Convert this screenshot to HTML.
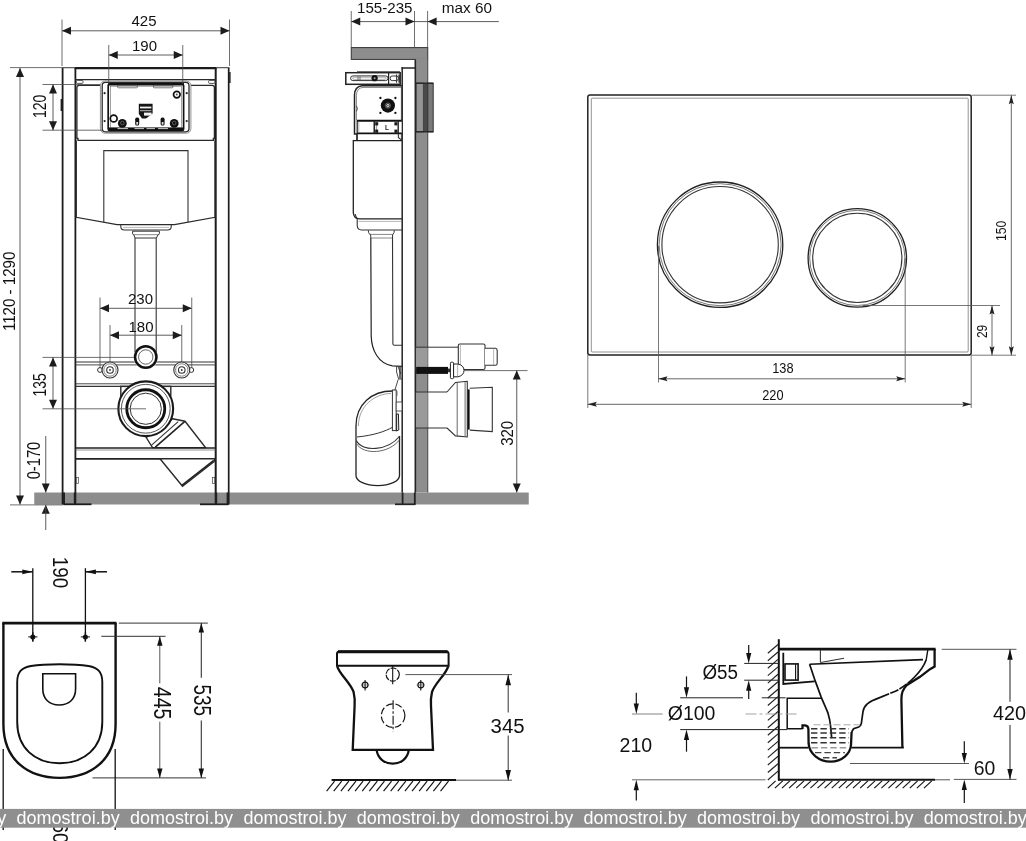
<!DOCTYPE html>
<html><head><meta charset="utf-8"><title>Installation drawing</title>
<style>
html,body{margin:0;padding:0;background:#fff;}
body{width:1026px;height:841px;overflow:hidden;font-family:"Liberation Sans",sans-serif;}
svg{display:block;will-change:transform;font-family:"Liberation Sans",sans-serif;}
</style></head><body>
<svg width="1026" height="841" viewBox="0 0 1026 841">
<rect x="0" y="0" width="1026" height="841" fill="#ffffff"/>
<g id="front">
<rect x="34.25" y="492.50" width="494.50" height="12.00" rx="0" stroke="none" stroke-width="0" fill="#8d8d8d" />
<line x1="62.60" y1="68.00" x2="62.60" y2="504.50" stroke="#1c1c1c" stroke-width="1.8" />
<line x1="75.40" y1="68.00" x2="75.40" y2="504.50" stroke="#1c1c1c" stroke-width="1.8" />
<line x1="215.70" y1="68.00" x2="215.70" y2="504.50" stroke="#1c1c1c" stroke-width="2.0" />
<line x1="228.70" y1="68.00" x2="228.70" y2="504.50" stroke="#1c1c1c" stroke-width="1.7" />
<line x1="74.50" y1="68.20" x2="216.60" y2="68.20" stroke="#1c1c1c" stroke-width="2.2" />
<line x1="61.80" y1="67.70" x2="74.50" y2="67.70" stroke="#444" stroke-width="1.1" />
<line x1="216.60" y1="67.70" x2="229.50" y2="67.70" stroke="#444" stroke-width="1.1" />
<line x1="75.40" y1="79.70" x2="215.60" y2="79.70" stroke="#2a2a2a" stroke-width="1.2" />
<rect x="60.60" y="99.00" width="1.40" height="12.00" rx="0" stroke="none" stroke-width="0" fill="#1c1c1c" />
<rect x="229.20" y="72.00" width="1.40" height="11.00" rx="0" stroke="none" stroke-width="0" fill="#1c1c1c" />
<line x1="63.50" y1="504.30" x2="91.50" y2="504.30" stroke="#1c1c1c" stroke-width="1.8" />
<line x1="200.00" y1="504.30" x2="228.50" y2="504.30" stroke="#1c1c1c" stroke-width="1.8" />
<line x1="10.00" y1="504.90" x2="63.00" y2="504.90" stroke="#4a4a4a" stroke-width="0.8" />
<rect x="76.40" y="80.40" width="6.60" height="3.00" rx="1" stroke="#444" stroke-width="0.9" fill="none" />
<rect x="208.60" y="80.40" width="6.40" height="3.00" rx="1" stroke="#444" stroke-width="0.9" fill="none" />
<path d="M100.4,85.3 L79,85.3 Q77,85.4 76.9,87.5 L76.9,138.5 L78,138.5 L78,140.4 L213.4,140.4 L213.4,138.5 L214.4,138.5 L214.4,87.5 Q214.3,85.4 212.3,85.3 L190.9,85.3" stroke="#2a2a2a" stroke-width="1.3" fill="none" />
<path d="M76.3,140.4 L76.3,217.3 L117,224.6 L174.5,224.6 L215,217.3 L215,140.4" stroke="#2a2a2a" stroke-width="1.2" fill="none" />
<path d="M103.8,222 L103.8,150.6 L188,150.6 L188,222" stroke="#333" stroke-width="1.1" fill="none" />
<path d="M120.8,224.6 L120.8,227 Q121,230 124.5,230 L167.5,230 Q171,230 171.2,227 L171.2,224.6" stroke="#333" stroke-width="1.1" fill="none" />
<line x1="123.00" y1="227.40" x2="169.00" y2="227.40" stroke="#888" stroke-width="0.6" />
<path d="M132.6,231.2 L159.4,231.2 L159.4,233.5 Q159.4,234.6 158,234.8 L156.4,238 L135,238 L133.8,234.8 Q132.6,234.6 132.6,233.5 Z" stroke="#333" stroke-width="1.0" fill="none" />
<line x1="133.50" y1="234.70" x2="158.50" y2="234.70" stroke="#555" stroke-width="0.7" />
<line x1="135.00" y1="238.00" x2="135.00" y2="346.00" stroke="#333" stroke-width="1.1" />
<line x1="156.20" y1="238.00" x2="156.20" y2="346.00" stroke="#333" stroke-width="1.1" />
<rect x="100.40" y="81.00" width="90.50" height="52.20" rx="4.5" stroke="#777" stroke-width="0.8" fill="#fff" />
<rect x="102.20" y="82.40" width="86.80" height="49.40" rx="3.2" stroke="#2a2a2a" stroke-width="1.3" fill="none" />
<rect x="108.20" y="84.00" width="75.40" height="46.40" rx="1.5" stroke="#111" stroke-width="1.7" fill="#fff" />
<line x1="108.00" y1="84.20" x2="184.00" y2="84.20" stroke="#111" stroke-width="2.6" />
<rect x="110.50" y="86.20" width="70.80" height="41.80" rx="0" stroke="#666" stroke-width="0.6" fill="none" />
<line x1="109.00" y1="129.30" x2="183.00" y2="129.30" stroke="#111" stroke-width="3.6" />
<line x1="117.50" y1="128.60" x2="128.00" y2="128.60" stroke="#ddd" stroke-width="0.9" />
<line x1="134.50" y1="128.60" x2="144.00" y2="128.60" stroke="#ddd" stroke-width="0.9" />
<line x1="146.50" y1="128.60" x2="155.00" y2="128.60" stroke="#ddd" stroke-width="0.9" />
<line x1="158.00" y1="128.60" x2="168.00" y2="128.60" stroke="#ddd" stroke-width="0.9" />
<rect x="117.60" y="85.20" width="19.80" height="2.60" rx="0.8" stroke="#444" stroke-width="0.7" fill="none" />
<rect x="153.40" y="85.20" width="19.50" height="2.60" rx="0.8" stroke="#444" stroke-width="0.7" fill="none" />
<circle cx="104.60" cy="93.20" r="1.10" stroke="none" stroke-width="0" fill="#222" />
<circle cx="104.60" cy="121.10" r="1.10" stroke="none" stroke-width="0" fill="#222" />
<circle cx="186.70" cy="93.20" r="1.10" stroke="none" stroke-width="0" fill="#222" />
<circle cx="186.70" cy="121.10" r="1.10" stroke="none" stroke-width="0" fill="#222" />
<circle cx="176.80" cy="94.60" r="3.30" stroke="#111" stroke-width="1.7" fill="none" />
<circle cx="176.80" cy="94.60" r="1.00" stroke="none" stroke-width="0" fill="#555" />
<circle cx="113.70" cy="118.50" r="3.40" stroke="#111" stroke-width="1.7" fill="none" />
<circle cx="122.30" cy="123.40" r="4.40" stroke="none" stroke-width="0" fill="#111" />
<circle cx="122.30" cy="123.00" r="1.80" stroke="#777" stroke-width="0.7" fill="none" />
<circle cx="174.20" cy="123.40" r="4.40" stroke="none" stroke-width="0" fill="#111" />
<circle cx="174.20" cy="123.00" r="1.80" stroke="#777" stroke-width="0.7" fill="none" />
<rect x="135.20" y="117.60" width="4.00" height="8.00" rx="1.6" stroke="none" stroke-width="0" fill="#111" />
<rect x="160.60" y="117.60" width="4.00" height="8.00" rx="1.6" stroke="none" stroke-width="0" fill="#111" />
<rect x="136.30" y="122.00" width="1.80" height="2.60" rx="0" stroke="none" stroke-width="0" fill="#ddd" />
<rect x="161.70" y="122.00" width="1.80" height="2.60" rx="0" stroke="none" stroke-width="0" fill="#ddd" />
<path d="M138.8,103.8 L152.6,103.8 L152.6,113.5 L146,118.6 L142,118.6 L138.8,114 Z" stroke="none" stroke-width="0" fill="#151515" />
<rect x="140.00" y="106.60" width="11.40" height="1.80" rx="0" stroke="none" stroke-width="0" fill="#eee" />
<rect x="140.00" y="110.20" width="11.40" height="1.00" rx="0" stroke="none" stroke-width="0" fill="#bbb" />
<rect x="144.00" y="112.60" width="7.60" height="3.00" rx="0" stroke="none" stroke-width="0" fill="#f2f2f2" />
<line x1="75.40" y1="362.00" x2="215.60" y2="362.00" stroke="#333" stroke-width="1.2" />
<line x1="75.40" y1="364.90" x2="215.60" y2="364.90" stroke="#333" stroke-width="0.9" />
<line x1="75.40" y1="383.80" x2="215.60" y2="383.80" stroke="#333" stroke-width="0.9" />
<line x1="75.40" y1="386.40" x2="215.60" y2="386.40" stroke="#333" stroke-width="1.2" />
<circle cx="145.75" cy="357.00" r="12.20" stroke="none" stroke-width="0" fill="#fff" />
<circle cx="145.75" cy="357.00" r="10.70" stroke="#111" stroke-width="2.5" fill="#fff" />
<circle cx="145.75" cy="357.00" r="7.20" stroke="#555" stroke-width="0.9" fill="none" />
<line x1="135.00" y1="346.00" x2="135.00" y2="352.00" stroke="#333" stroke-width="1.1" />
<line x1="156.20" y1="346.00" x2="156.20" y2="352.00" stroke="#333" stroke-width="1.1" />
<circle cx="100.00" cy="370.00" r="2.40" stroke="#333" stroke-width="1.0" fill="#fff" />
<circle cx="110.00" cy="370.00" r="8.00" stroke="#333" stroke-width="1.1" fill="#fff" />
<circle cx="110.00" cy="370.00" r="6.20" stroke="#666" stroke-width="0.8" fill="none" />
<circle cx="110.00" cy="370.00" r="3.30" stroke="#333" stroke-width="1.1" fill="none" />
<circle cx="110.00" cy="370.00" r="0.90" stroke="none" stroke-width="0" fill="#333" />
<circle cx="191.30" cy="370.00" r="2.40" stroke="#333" stroke-width="1.0" fill="#fff" />
<circle cx="181.75" cy="370.00" r="8.00" stroke="#333" stroke-width="1.1" fill="#fff" />
<circle cx="181.75" cy="370.00" r="6.20" stroke="#666" stroke-width="0.8" fill="none" />
<circle cx="181.75" cy="370.00" r="3.30" stroke="#333" stroke-width="1.1" fill="none" />
<circle cx="181.75" cy="370.00" r="0.90" stroke="none" stroke-width="0" fill="#333" />
<rect x="120.80" y="386.40" width="50.00" height="9.60" rx="0" stroke="#2a2a2a" stroke-width="1.4" fill="none" />
<polygon points="172.50,418.75 185.00,421.25 205.50,447.60 152.50,447.60 146.25,437.50" stroke="#2a2a2a" stroke-width="1.4" fill="#fff" />
<line x1="151.60" y1="445.20" x2="178.20" y2="421.60" stroke="#333" stroke-width="1.1" />
<line x1="155.30" y1="447.20" x2="184.60" y2="421.60" stroke="#222" stroke-width="1.6" />
<circle cx="145.75" cy="408.75" r="27.40" stroke="#1a1a1a" stroke-width="2.1" fill="#fff" />
<circle cx="145.75" cy="408.75" r="24.40" stroke="#444" stroke-width="0.9" fill="none" />
<circle cx="145.75" cy="408.75" r="19.00" stroke="#111" stroke-width="2.8" fill="none" />
<circle cx="145.75" cy="408.75" r="15.60" stroke="#333" stroke-width="1.0" fill="none" />
<line x1="75.40" y1="448.00" x2="215.60" y2="448.00" stroke="#222" stroke-width="1.5" />
<line x1="75.40" y1="450.00" x2="215.60" y2="450.00" stroke="#666" stroke-width="0.7" />
<line x1="75.40" y1="458.80" x2="215.60" y2="458.80" stroke="#222" stroke-width="1.8" />
<polygon points="160.00,458.80 182.50,486.20 214.60,461.20 214.60,458.80" stroke="#2a2a2a" stroke-width="1.4" fill="#fff" />
<line x1="181.50" y1="485.60" x2="213.80" y2="460.40" stroke="#222" stroke-width="1.6" />
<rect x="76.20" y="477.50" width="2.40" height="6.00" rx="0" stroke="#444" stroke-width="0.7" fill="none" />
<rect x="212.40" y="477.50" width="2.40" height="6.00" rx="0" stroke="#444" stroke-width="0.7" fill="none" />
<line x1="62.00" y1="19.50" x2="62.00" y2="66.00" stroke="#4a4a4a" stroke-width="0.8" />
<line x1="229.50" y1="19.50" x2="229.50" y2="66.00" stroke="#4a4a4a" stroke-width="0.8" />
<line x1="62.00" y1="30.80" x2="229.50" y2="30.80" stroke="#4a4a4a" stroke-width="0.9" />
<polygon points="62.00,30.80 71.00,26.80 71.00,34.80" fill="#1c1c1c"/>
<polygon points="229.50,30.80 220.50,34.80 220.50,26.80" fill="#1c1c1c"/>
<text x="144.00" y="26.00" font-size="15" text-anchor="middle" fill="#111" font-weight="normal" >425</text>
<line x1="108.75" y1="45.00" x2="108.75" y2="84.00" stroke="#4a4a4a" stroke-width="0.8" />
<line x1="182.75" y1="45.00" x2="182.75" y2="84.00" stroke="#4a4a4a" stroke-width="0.8" />
<line x1="108.75" y1="55.00" x2="182.75" y2="55.00" stroke="#4a4a4a" stroke-width="0.9" />
<polygon points="108.75,55.00 117.75,51.00 117.75,59.00" fill="#1c1c1c"/>
<polygon points="182.75,55.00 173.75,59.00 173.75,51.00" fill="#1c1c1c"/>
<text x="144.50" y="51.20" font-size="15" text-anchor="middle" fill="#111" font-weight="normal" >190</text>
<line x1="42.50" y1="84.50" x2="100.00" y2="84.50" stroke="#4a4a4a" stroke-width="0.8" />
<line x1="42.50" y1="130.20" x2="103.00" y2="130.20" stroke="#4a4a4a" stroke-width="0.8" />
<line x1="53.00" y1="84.50" x2="53.00" y2="130.20" stroke="#4a4a4a" stroke-width="0.9" />
<polygon points="53.00,84.50 57.00,93.50 49.00,93.50" fill="#1c1c1c"/>
<polygon points="53.00,130.20 49.00,121.20 57.00,121.20" fill="#1c1c1c"/>
<text x="46.30" y="106.30" font-size="17.5" text-anchor="middle" fill="#111" font-weight="normal" transform="rotate(-90 46.30 106.30)"  textLength="23.4" lengthAdjust="spacingAndGlyphs">120</text>
<line x1="10.00" y1="67.60" x2="62.00" y2="67.60" stroke="#4a4a4a" stroke-width="0.8" />
<line x1="20.00" y1="68.00" x2="20.00" y2="504.50" stroke="#4a4a4a" stroke-width="0.9" />
<polygon points="20.00,68.00 24.00,77.00 16.00,77.00" fill="#1c1c1c"/>
<polygon points="20.00,504.50 16.00,495.50 24.00,495.50" fill="#1c1c1c"/>
<text x="14.60" y="291.40" font-size="17" text-anchor="middle" fill="#111" font-weight="normal" transform="rotate(-90 14.60 291.40)"  textLength="79.4" lengthAdjust="spacingAndGlyphs">1120 - 1290</text>
<line x1="100.00" y1="297.50" x2="100.00" y2="368.00" stroke="#4a4a4a" stroke-width="0.8" />
<line x1="191.75" y1="297.50" x2="191.75" y2="368.00" stroke="#4a4a4a" stroke-width="0.8" />
<line x1="100.00" y1="308.30" x2="191.75" y2="308.30" stroke="#4a4a4a" stroke-width="0.9" />
<polygon points="100.00,308.30 109.00,304.30 109.00,312.30" fill="#1c1c1c"/>
<polygon points="191.75,308.30 182.75,312.30 182.75,304.30" fill="#1c1c1c"/>
<text x="140.50" y="303.80" font-size="15" text-anchor="middle" fill="#111" font-weight="normal" >230</text>
<line x1="110.00" y1="325.00" x2="110.00" y2="362.00" stroke="#4a4a4a" stroke-width="0.8" />
<line x1="181.75" y1="325.00" x2="181.75" y2="362.00" stroke="#4a4a4a" stroke-width="0.8" />
<line x1="110.00" y1="335.20" x2="181.75" y2="335.20" stroke="#4a4a4a" stroke-width="0.9" />
<polygon points="110.00,335.20 119.00,331.20 119.00,339.20" fill="#1c1c1c"/>
<polygon points="181.75,335.20 172.75,339.20 172.75,331.20" fill="#1c1c1c"/>
<text x="141.00" y="331.60" font-size="15" text-anchor="middle" fill="#111" font-weight="normal" >180</text>
<line x1="42.50" y1="357.40" x2="134.00" y2="357.40" stroke="#4a4a4a" stroke-width="0.8" />
<line x1="42.50" y1="408.80" x2="146.00" y2="408.80" stroke="#4a4a4a" stroke-width="0.8" />
<line x1="53.00" y1="357.40" x2="53.00" y2="408.80" stroke="#4a4a4a" stroke-width="0.9" />
<polygon points="53.00,357.40 57.00,366.40 49.00,366.40" fill="#1c1c1c"/>
<polygon points="53.00,408.80 49.00,399.80 57.00,399.80" fill="#1c1c1c"/>
<text x="45.80" y="384.80" font-size="17.5" text-anchor="middle" fill="#111" font-weight="normal" transform="rotate(-90 45.80 384.80)"  textLength="23.2" lengthAdjust="spacingAndGlyphs">135</text>
<line x1="45.75" y1="436.00" x2="45.75" y2="492.50" stroke="#4a4a4a" stroke-width="0.9" />
<polygon points="45.75,492.50 41.75,483.50 49.75,483.50" fill="#1c1c1c"/>
<polygon points="45.75,504.80 49.75,513.80 41.75,513.80" fill="#1c1c1c"/>
<line x1="45.75" y1="505.00" x2="45.75" y2="530.00" stroke="#4a4a4a" stroke-width="0.9" />
<text x="39.60" y="460.50" font-size="17.5" text-anchor="middle" fill="#111" font-weight="normal" transform="rotate(-90 39.60 460.50)"  textLength="37.6" lengthAdjust="spacingAndGlyphs">0-170</text>
<line x1="64.00" y1="492.50" x2="64.00" y2="504.50" stroke="#222" stroke-width="2.0" />
<line x1="74.80" y1="492.50" x2="74.80" y2="504.50" stroke="#222" stroke-width="2.0" />
<line x1="216.20" y1="492.50" x2="216.20" y2="504.50" stroke="#222" stroke-width="2.0" />
<line x1="227.60" y1="492.50" x2="227.60" y2="504.50" stroke="#222" stroke-width="2.0" />
</g>
<g id="side">
<rect x="351.25" y="47.60" width="76.50" height="11.80" rx="0" stroke="#333" stroke-width="1.0" fill="#8d8d8d" />
<rect x="415.30" y="59.40" width="12.45" height="433.10" rx="0" stroke="none" stroke-width="0" fill="#8d8d8d" />
<line x1="415.30" y1="59.40" x2="415.30" y2="492.50" stroke="#222" stroke-width="1.6" />
<line x1="427.75" y1="59.40" x2="427.75" y2="492.50" stroke="#444" stroke-width="1.0" />
<rect x="416.00" y="58.60" width="11.20" height="1.80" rx="0" stroke="none" stroke-width="0" fill="#8d8d8d" />
<rect x="402.20" y="68.00" width="13.10" height="424.50" rx="0" stroke="none" stroke-width="0" fill="#fff" />
<line x1="402.20" y1="67.30" x2="402.20" y2="492.50" stroke="#222" stroke-width="1.5" />
<line x1="415.30" y1="68.00" x2="415.30" y2="492.50" stroke="#222" stroke-width="1.5" />
<line x1="401.50" y1="68.00" x2="416.00" y2="68.00" stroke="#222" stroke-width="1.5" />
<rect x="416.20" y="83.20" width="7.20" height="48.60" rx="0" stroke="#333" stroke-width="0.9" fill="#949494" />
<rect x="423.40" y="83.20" width="4.40" height="48.60" rx="0" stroke="none" stroke-width="0" fill="#4a4a4a" />
<rect x="427.80" y="83.20" width="5.40" height="48.60" rx="0" stroke="#333" stroke-width="1.0" fill="#7a7a7a" />
<line x1="416.00" y1="83.20" x2="433.30" y2="83.20" stroke="#222" stroke-width="1.3" />
<line x1="416.00" y1="131.80" x2="433.30" y2="131.80" stroke="#222" stroke-width="1.3" />
<rect x="345.80" y="72.70" width="54.40" height="11.60" rx="0" stroke="#222" stroke-width="1.5" fill="#fff" />
<line x1="357.00" y1="71.80" x2="400.00" y2="71.80" stroke="#333" stroke-width="1.0" />
<rect x="350.60" y="75.90" width="37.40" height="4.70" rx="2.3" stroke="#333" stroke-width="1.0" fill="none" />
<rect x="352.60" y="77.20" width="33.40" height="2.10" rx="1" stroke="#777" stroke-width="0.6" fill="none" />
<line x1="358.00" y1="76.40" x2="358.00" y2="80.20" stroke="#555" stroke-width="0.8" />
<line x1="360.00" y1="76.40" x2="360.00" y2="80.20" stroke="#555" stroke-width="0.8" />
<circle cx="374.60" cy="78.20" r="3.10" stroke="none" stroke-width="0" fill="#111" />
<circle cx="374.60" cy="78.20" r="1.00" stroke="none" stroke-width="0" fill="#aaa" />
<line x1="388.60" y1="73.00" x2="388.60" y2="84.00" stroke="#222" stroke-width="1.2" />
<rect x="390.20" y="76.00" width="8.20" height="4.60" rx="2" stroke="#333" stroke-width="1.0" fill="none" />
<line x1="396.60" y1="74.40" x2="396.60" y2="82.80" stroke="#333" stroke-width="1.0" />
<rect x="398.40" y="74.60" width="2.20" height="8.00" rx="0" stroke="none" stroke-width="0" fill="#333" />
<path d="M402,85.7 L362,85.7 Q354.6,86.6 354.5,95 L354.5,134 L357,134 L357,140.6" stroke="#222" stroke-width="1.5" fill="none" />
<path d="M401,87.4 L363,87.4 Q356.6,88 356.4,95.5 L356.4,120" stroke="#666" stroke-width="0.8" fill="none" />
<path d="M356.4,105.8 Q358.6,108.6 356.4,111.4" stroke="#444" stroke-width="0.9" fill="none" />
<line x1="401.40" y1="85.70" x2="401.40" y2="140.60" stroke="#444" stroke-width="0.9" />
<circle cx="387.90" cy="105.60" r="7.10" stroke="none" stroke-width="0" fill="#111" />
<circle cx="387.90" cy="105.60" r="2.60" stroke="#888" stroke-width="0.7" fill="none" />
<circle cx="387.90" cy="105.60" r="1.30" stroke="#eee" stroke-width="0.8" fill="#666" />
<circle cx="380.40" cy="98.00" r="1.15" stroke="none" stroke-width="0" fill="#111" />
<circle cx="380.40" cy="112.90" r="1.15" stroke="none" stroke-width="0" fill="#111" />
<circle cx="395.40" cy="98.00" r="1.15" stroke="none" stroke-width="0" fill="#111" />
<circle cx="395.40" cy="112.90" r="1.15" stroke="none" stroke-width="0" fill="#111" />
<rect x="357.00" y="120.60" width="44.60" height="12.90" rx="0" stroke="none" stroke-width="0" fill="#fff" />
<line x1="356.80" y1="120.80" x2="401.80" y2="120.80" stroke="#111" stroke-width="1.9" />
<line x1="356.80" y1="133.40" x2="401.80" y2="133.40" stroke="#111" stroke-width="1.9" />
<line x1="357.20" y1="120.60" x2="357.20" y2="133.50" stroke="#222" stroke-width="1.2" />
<line x1="358.80" y1="121.60" x2="358.80" y2="132.60" stroke="#888" stroke-width="0.6" />
<line x1="374.30" y1="120.60" x2="374.30" y2="133.50" stroke="#222" stroke-width="1.6" />
<line x1="376.60" y1="121.60" x2="376.60" y2="132.60" stroke="#666" stroke-width="0.7" />
<line x1="398.20" y1="120.60" x2="398.20" y2="133.50" stroke="#222" stroke-width="1.4" />
<rect x="375.20" y="122.20" width="3.00" height="3.20" rx="0" stroke="none" stroke-width="0" fill="#1a1a1a" />
<rect x="375.20" y="129.60" width="3.00" height="3.20" rx="0" stroke="none" stroke-width="0" fill="#1a1a1a" />
<rect x="394.40" y="122.20" width="3.00" height="3.20" rx="0" stroke="none" stroke-width="0" fill="#1a1a1a" />
<rect x="394.40" y="129.60" width="3.00" height="3.20" rx="0" stroke="none" stroke-width="0" fill="#1a1a1a" />
<text x="387.00" y="129.60" font-size="6.5" text-anchor="middle" fill="#222" font-weight="bold" >L</text>
<path d="M357,133.5 L357,140.6 M398.4,134 L398.4,137.4 L401.8,140.4" stroke="#333" stroke-width="1.1" fill="none" />
<path d="M402,140.6 L353.3,140.6 L353.3,212.5 Q353.6,218.6 359.5,218.8 L402,218.8" stroke="#222" stroke-width="1.3" fill="none" />
<path d="M355.2,214 Q355.6,217 357.2,218.6 L357.2,225.5 Q357.6,229.8 361.5,230 L402,230" stroke="#333" stroke-width="1.1" fill="none" />
<line x1="358.50" y1="221.40" x2="402.00" y2="221.40" stroke="#888" stroke-width="0.6" />
<path d="M368.3,230.4 L368.6,232.6 Q369,234 370.6,234.4 L370.8,238 M394.3,230.4 L394,232.6 Q393.6,234 392.6,234.4 L392.5,238" stroke="#333" stroke-width="1.0" fill="none" />
<line x1="369.60" y1="234.40" x2="393.40" y2="234.40" stroke="#555" stroke-width="0.7" />
<line x1="370.80" y1="238.00" x2="392.50" y2="238.00" stroke="#555" stroke-width="0.7" />
<path d="M370.8,238 L371.2,336 C371.6,350 378,363.4 392.4,365.9 L402,366.4" stroke="#222" stroke-width="1.2" fill="none" />
<path d="M392.5,238 L392.9,344 Q393,345.2 394.4,345.3 L402,345.3" stroke="#333" stroke-width="1.1" fill="none" />
<path d="M396.6,366.4 L396.6,372 L398.6,379 L402,379 M398,366.4 L400.8,374 M398.2,379.4 L394.6,391" stroke="#333" stroke-width="0.9" fill="none" />
<line x1="400.00" y1="367.00" x2="400.00" y2="378.60" stroke="#333" stroke-width="1.4" />
<path d="M392.4,391 C372,391 356,404 356,426 L356,475.5 A21.75,10.2 0 0 0 399.5,475.5 L399.5,436" stroke="#222" stroke-width="1.3" fill="#fff" />
<path d="M391,393.4 C374,394 358.6,406 358.4,426" stroke="#777" stroke-width="0.7" fill="none" />
<path d="M392.4,427.3 C386,431 374,435.4 357,437" stroke="#333" stroke-width="1.0" fill="none" />
<path d="M356.4,440.6 C362,452.5 388,451 399.8,436" stroke="#333" stroke-width="1.1" fill="none" />
<path d="M356.4,443.4 C363,455.5 389,454 399.8,439.5" stroke="#555" stroke-width="0.9" fill="none" />
<rect x="392.40" y="390.00" width="3.80" height="40.60" rx="0" stroke="#333" stroke-width="1.0" fill="#fff" />
<line x1="397.00" y1="391.00" x2="397.00" y2="396.00" stroke="#555" stroke-width="0.8" />
<rect x="396.20" y="402.00" width="5.80" height="9.00" rx="0" stroke="#444" stroke-width="0.9" fill="#fff" />
<path d="M396.4,414 L398.4,414 L398.8,430 L396.4,431 Z" stroke="#222" stroke-width="1.0" fill="#ddd" />
<rect x="415.90" y="347.20" width="11.70" height="22.20" rx="0" stroke="none" stroke-width="0" fill="#9a9a9a" />
<line x1="415.30" y1="347.20" x2="458.30" y2="347.20" stroke="#333" stroke-width="1.0" />
<line x1="415.30" y1="369.50" x2="458.30" y2="369.50" stroke="#333" stroke-width="1.0" />
<rect x="458.30" y="344.00" width="26.70" height="25.50" rx="1.5" stroke="#333" stroke-width="1.1" fill="#fff" />
<line x1="460.40" y1="345.00" x2="460.40" y2="368.60" stroke="#888" stroke-width="0.6" />
<path d="M485,348.2 L495.4,348.2 Q497.2,348.4 497.2,350.4 L497.2,363.2 Q497.2,365.2 495.4,365.3 L485,365.3" stroke="#333" stroke-width="1.1" fill="#fff" />
<line x1="493.60" y1="348.60" x2="493.60" y2="365.00" stroke="#888" stroke-width="0.6" />
<rect x="416.20" y="366.90" width="31.80" height="7.00" rx="0" stroke="none" stroke-width="0" fill="#111" />
<rect x="448.00" y="368.60" width="2.60" height="3.60" rx="0" stroke="none" stroke-width="0" fill="#333" />
<rect x="450.40" y="362.20" width="3.20" height="16.40" rx="1" stroke="#222" stroke-width="1.0" fill="#fff" />
<path d="M453.6,364 L458,364 Q464,365.4 464,370.4 Q464,375.4 458,376.8 L453.6,376.8 Z" stroke="#222" stroke-width="1.0" fill="#fff" />
<line x1="457.60" y1="364.20" x2="457.60" y2="376.60" stroke="#777" stroke-width="0.6" />
<rect x="415.90" y="392.00" width="11.70" height="36.00" rx="0" stroke="none" stroke-width="0" fill="#9a9a9a" />
<line x1="415.30" y1="392.00" x2="447.00" y2="392.00" stroke="#333" stroke-width="1.0" />
<line x1="415.30" y1="428.00" x2="447.00" y2="428.00" stroke="#333" stroke-width="1.0" />
<path d="M447,392 L455.5,382.5 L467.3,381.3 L467.3,437 L455.5,435.9 L447,428" stroke="#333" stroke-width="1.1" fill="#fff" />
<line x1="457.20" y1="382.40" x2="457.20" y2="436.00" stroke="#444" stroke-width="0.8" />
<line x1="465.10" y1="381.60" x2="465.10" y2="436.80" stroke="#444" stroke-width="0.8" />
<rect x="467.60" y="389.40" width="2.20" height="40.20" rx="0" stroke="none" stroke-width="0" fill="#111" />
<path d="M469.8,388.2 L492.3,387.3 L492.3,431.6 L469.8,430.1" stroke="#333" stroke-width="1.1" fill="#fff" />
<line x1="402.60" y1="492.50" x2="402.60" y2="504.50" stroke="#222" stroke-width="1.8" />
<line x1="414.80" y1="492.50" x2="414.80" y2="504.50" stroke="#222" stroke-width="1.8" />
<line x1="395.00" y1="504.30" x2="415.50" y2="504.30" stroke="#222" stroke-width="1.7" />
<line x1="351.25" y1="11.00" x2="351.25" y2="47.50" stroke="#4a4a4a" stroke-width="0.8" />
<line x1="414.50" y1="11.00" x2="414.50" y2="47.50" stroke="#4a4a4a" stroke-width="0.8" />
<line x1="427.60" y1="11.00" x2="427.60" y2="47.50" stroke="#4a4a4a" stroke-width="0.8" />
<line x1="351.25" y1="21.60" x2="498.80" y2="21.60" stroke="#4a4a4a" stroke-width="0.9" />
<polygon points="351.25,21.60 360.25,17.60 360.25,25.60" fill="#1c1c1c"/>
<polygon points="414.50,21.60 405.50,25.60 405.50,17.60" fill="#1c1c1c"/>
<polygon points="427.60,21.60 436.60,17.60 436.60,25.60" fill="#1c1c1c"/>
<text x="384.75" y="12.60" font-size="15" text-anchor="middle" fill="#111" font-weight="normal"  textLength="55.5" lengthAdjust="spacingAndGlyphs">155-235</text>
<text x="466.90" y="12.60" font-size="15" text-anchor="middle" fill="#111" font-weight="normal"  textLength="50.2" lengthAdjust="spacingAndGlyphs">max 60</text>
<line x1="464.00" y1="370.60" x2="527.50" y2="370.60" stroke="#4a4a4a" stroke-width="0.8" />
<line x1="516.75" y1="370.60" x2="516.75" y2="492.50" stroke="#4a4a4a" stroke-width="0.9" />
<polygon points="516.75,370.60 520.75,379.60 512.75,379.60" fill="#1c1c1c"/>
<polygon points="516.75,492.50 512.75,483.50 520.75,483.50" fill="#1c1c1c"/>
<text x="513.00" y="433.30" font-size="17.2" text-anchor="middle" fill="#111" font-weight="normal" transform="rotate(-90 513.00 433.30)"  textLength="25" lengthAdjust="spacingAndGlyphs">320</text>
</g>
<g id="plate">
<rect x="587.80" y="95.00" width="383.40" height="260.00" rx="2.2" stroke="#222" stroke-width="1.5" fill="none" />
<rect x="591.30" y="98.20" width="376.90" height="253.80" rx="1" stroke="#666" stroke-width="0.7" fill="none" />
<circle cx="720.10" cy="244.70" r="62.70" stroke="#222" stroke-width="1.3" fill="none" />
<circle cx="720.10" cy="244.70" r="61.00" stroke="#555" stroke-width="0.8" fill="none" />
<circle cx="720.10" cy="244.70" r="58.20" stroke="#333" stroke-width="1.1" fill="none" />
<circle cx="857.30" cy="257.90" r="49.20" stroke="#222" stroke-width="1.3" fill="none" />
<circle cx="857.30" cy="257.90" r="47.60" stroke="#555" stroke-width="0.8" fill="none" />
<circle cx="857.30" cy="257.90" r="44.60" stroke="#333" stroke-width="1.1" fill="none" />
<line x1="658.50" y1="246.00" x2="658.50" y2="382.50" stroke="#555" stroke-width="0.8" />
<line x1="905.20" y1="258.00" x2="905.20" y2="382.50" stroke="#555" stroke-width="0.8" />
<line x1="658.50" y1="378.80" x2="905.20" y2="378.80" stroke="#555" stroke-width="0.9" />
<polygon points="658.50,378.80 667.50,376.30 666.00,378.80 667.50,381.30" fill="#222"/>
<polygon points="905.20,378.80 896.20,381.30 897.70,378.80 896.20,376.30" fill="#222"/>
<text x="782.90" y="373.30" font-size="14" text-anchor="middle" fill="#111" font-weight="normal"  textLength="21.3" lengthAdjust="spacingAndGlyphs">138</text>
<line x1="587.80" y1="355.00" x2="587.80" y2="408.00" stroke="#555" stroke-width="0.8" />
<line x1="971.20" y1="355.00" x2="971.20" y2="408.00" stroke="#555" stroke-width="0.8" />
<line x1="587.80" y1="404.30" x2="971.20" y2="404.30" stroke="#555" stroke-width="0.9" />
<polygon points="587.80,404.30 596.80,401.80 595.30,404.30 596.80,406.80" fill="#222"/>
<polygon points="971.20,404.30 962.20,406.80 963.70,404.30 962.20,401.80" fill="#222"/>
<text x="772.90" y="400.00" font-size="14" text-anchor="middle" fill="#111" font-weight="normal"  textLength="21.3" lengthAdjust="spacingAndGlyphs">220</text>
<line x1="971.50" y1="95.20" x2="1016.00" y2="95.20" stroke="#555" stroke-width="0.8" />
<line x1="971.50" y1="355.20" x2="1016.00" y2="355.20" stroke="#555" stroke-width="0.8" />
<line x1="1011.30" y1="95.20" x2="1011.30" y2="355.20" stroke="#555" stroke-width="0.9" />
<polygon points="1011.30,95.20 1013.80,104.20 1011.30,102.70 1008.80,104.20" fill="#222"/>
<polygon points="1011.30,355.20 1008.80,346.20 1011.30,347.70 1013.80,346.20" fill="#222"/>
<text x="1005.80" y="230.80" font-size="15" text-anchor="middle" fill="#111" font-weight="normal" transform="rotate(-90 1005.80 230.80)"  textLength="20.4" lengthAdjust="spacingAndGlyphs">150</text>
<line x1="862.50" y1="305.50" x2="1000.00" y2="305.50" stroke="#555" stroke-width="0.8" />
<line x1="992.00" y1="305.50" x2="992.00" y2="355.20" stroke="#555" stroke-width="0.9" />
<polygon points="992.00,305.50 994.50,314.50 992.00,313.00 989.50,314.50" fill="#222"/>
<polygon points="992.00,355.20 989.50,346.20 992.00,347.70 994.50,346.20" fill="#222"/>
<text x="987.50" y="331.40" font-size="15" text-anchor="middle" fill="#111" font-weight="normal" transform="rotate(-90 987.50 331.40)"  textLength="13.4" lengthAdjust="spacingAndGlyphs">29</text>
</g>
<g id="top">
<path d="M3.4,623.1 L3.4,724 C3.4,760 28,777.9 59.5,777.9 C91,777.9 115.6,760 115.6,724 L115.6,623.1" stroke="#111" stroke-width="2.4" fill="none" />
<line x1="2.30" y1="623.10" x2="116.50" y2="623.10" stroke="#111" stroke-width="2.6" />
<path d="M31,666 C45,663.6 74,663.6 88.5,666 C98,667.6 102.3,672 102.3,682 L102.3,722 C102.3,748 84,763.2 59.6,763.2 C35,763.2 17.2,748 17.2,722 L17.2,682 C17.2,672 21.5,667.6 31,666 Z" stroke="#111" stroke-width="1.9" fill="none" />
<path d="M42.8,673.8 L75.6,673.8 L75.6,689 C75.6,699 69,705 59.2,705 C49.4,705 42.8,699 42.8,689 Z" stroke="#111" stroke-width="1.6" fill="none" />
<line x1="32.80" y1="568.20" x2="32.80" y2="641.50" stroke="#111" stroke-width="1.3" />
<line x1="28.20" y1="636.90" x2="37.40" y2="636.90" stroke="#111" stroke-width="1.0" />
<circle cx="32.80" cy="636.90" r="2.50" stroke="none" stroke-width="0" fill="#111" />
<line x1="32.80" y1="632.20" x2="32.80" y2="641.60" stroke="#111" stroke-width="1.3" />
<line x1="85.40" y1="568.20" x2="85.40" y2="641.50" stroke="#111" stroke-width="1.3" />
<line x1="80.80" y1="636.90" x2="90.00" y2="636.90" stroke="#111" stroke-width="1.0" />
<circle cx="85.40" cy="636.90" r="2.50" stroke="none" stroke-width="0" fill="#111" />
<line x1="85.40" y1="632.20" x2="85.40" y2="641.60" stroke="#111" stroke-width="1.3" />
<line x1="11.30" y1="571.80" x2="32.80" y2="571.80" stroke="#111" stroke-width="1.5" />
<polygon points="32.80,571.80 22.30,574.20 22.30,569.40" fill="#111"/>
<line x1="85.40" y1="571.80" x2="107.00" y2="571.80" stroke="#111" stroke-width="1.5" />
<polygon points="85.40,571.80 95.90,569.40 95.90,574.20" fill="#111"/>
<text x="52.60" y="572.60" font-size="22.5" text-anchor="middle" fill="#111" font-weight="normal" transform="rotate(90 52.60 572.60)" textLength="31.5" lengthAdjust="spacingAndGlyphs">190</text>
<line x1="118.80" y1="623.10" x2="207.80" y2="623.10" stroke="#333" stroke-width="1.0" />
<line x1="101.30" y1="636.30" x2="165.60" y2="636.30" stroke="#333" stroke-width="1.0" />
<line x1="92.50" y1="777.90" x2="206.00" y2="777.90" stroke="#333" stroke-width="1.0" />
<line x1="159.80" y1="636.30" x2="159.80" y2="683.40" stroke="#444" stroke-width="0.9" />
<line x1="159.80" y1="721.70" x2="159.80" y2="777.90" stroke="#444" stroke-width="0.9" />
<polygon points="159.80,636.30 162.50,645.80 157.10,645.80" fill="#111"/>
<polygon points="159.80,777.90 157.10,768.40 162.50,768.40" fill="#111"/>
<text x="153.50" y="703.10" font-size="23" text-anchor="middle" fill="#111" font-weight="normal" transform="rotate(90 153.50 703.10)" textLength="32.6" lengthAdjust="spacingAndGlyphs">445</text>
<line x1="201.30" y1="623.10" x2="201.30" y2="677.70" stroke="#333" stroke-width="1.1" />
<line x1="201.30" y1="720.60" x2="201.30" y2="777.90" stroke="#333" stroke-width="1.1" />
<polygon points="201.30,623.10 204.00,632.60 198.60,632.60" fill="#111"/>
<polygon points="201.30,777.90 198.60,768.40 204.00,768.40" fill="#111"/>
<text x="194.00" y="700.30" font-size="23" text-anchor="middle" fill="#111" font-weight="normal" transform="rotate(90 194.00 700.30)" textLength="31.6" lengthAdjust="spacingAndGlyphs">535</text>
<line x1="3.20" y1="749.00" x2="3.20" y2="830.00" stroke="#111" stroke-width="1.3" />
<line x1="115.20" y1="749.00" x2="115.20" y2="830.00" stroke="#111" stroke-width="1.3" />
<text x="52.60" y="827.80" font-size="22.5" text-anchor="middle" fill="#111" font-weight="normal" transform="rotate(90 52.60 827.80)" textLength="31.5" lengthAdjust="spacingAndGlyphs">360</text>
</g>
<g id="back">
<path d="M337,665.8 L337,653.6 Q337.2,651.6 339.4,651.5 L446.2,651.5 Q448.4,651.6 448.6,653.6 L448.6,665.8 Z" stroke="#111" stroke-width="2.0" fill="#fff" />
<line x1="338.00" y1="651.70" x2="447.60" y2="651.70" stroke="#111" stroke-width="3.0" />
<path d="M337.2,666.3 C340,675 350,682 353.6,692 C354.8,697 354.8,703 354.6,706 L352.7,749.9 L433,749.9 L431,706 C430.8,703 430.8,697 432,692 C435.6,682 445.6,675 448.2,666.3" stroke="#111" stroke-width="2.3" fill="none" />
<path d="M376.6,750 C377.8,758.6 384.6,763.6 392.7,763.6 C400.8,763.6 407.6,758.6 408.8,750" stroke="#111" stroke-width="2.2" fill="none" />
<circle cx="392.70" cy="674.60" r="6.60" stroke="#111" stroke-width="1.2" fill="none" stroke-dasharray="6 1.2"/>
<line x1="392.70" y1="664.90" x2="392.70" y2="684.20" stroke="#111" stroke-width="1.1" />
<circle cx="365.10" cy="685.00" r="2.90" stroke="#111" stroke-width="1.2" fill="none" />
<line x1="365.10" y1="680.00" x2="365.10" y2="690.40" stroke="#111" stroke-width="1.1" />
<line x1="360.90" y1="685.00" x2="369.30" y2="685.00" stroke="#555" stroke-width="0.7" />
<circle cx="420.80" cy="685.00" r="2.90" stroke="#111" stroke-width="1.2" fill="none" />
<line x1="420.80" y1="680.00" x2="420.80" y2="690.40" stroke="#111" stroke-width="1.1" />
<line x1="416.60" y1="685.00" x2="425.00" y2="685.00" stroke="#555" stroke-width="0.7" />
<circle cx="393.10" cy="715.60" r="11.80" stroke="#111" stroke-width="1.2" fill="none" stroke-dasharray="7 2.6"/>
<line x1="393.10" y1="700.20" x2="393.10" y2="731.50" stroke="#111" stroke-width="1.1" stroke-dasharray="9 2 2.5 2"/>
<line x1="405.40" y1="674.60" x2="512.00" y2="674.60" stroke="#444" stroke-width="0.9" />
<line x1="508.20" y1="674.70" x2="508.20" y2="712.50" stroke="#333" stroke-width="1.0" />
<line x1="508.20" y1="735.50" x2="508.20" y2="780.60" stroke="#333" stroke-width="1.0" />
<polygon points="508.20,674.70 511.00,685.20 505.40,685.20" fill="#111"/>
<polygon points="508.20,780.60 505.40,770.10 511.00,770.10" fill="#111"/>
<text x="507.60" y="732.90" font-size="19.5" text-anchor="middle" fill="#111" font-weight="normal" textLength="34" lengthAdjust="spacingAndGlyphs">345</text>
<line x1="331.60" y1="780.00" x2="456.00" y2="780.00" stroke="#111" stroke-width="1.8" />
<line x1="456.00" y1="780.20" x2="512.00" y2="780.20" stroke="#444" stroke-width="0.9" />
<line x1="326.60" y1="791.20" x2="334.60" y2="781.20" stroke="#111" stroke-width="1.15" />
<line x1="333.72" y1="791.20" x2="341.72" y2="781.20" stroke="#111" stroke-width="1.15" />
<line x1="340.84" y1="791.20" x2="348.84" y2="781.20" stroke="#111" stroke-width="1.15" />
<line x1="347.96" y1="791.20" x2="355.96" y2="781.20" stroke="#111" stroke-width="1.15" />
<line x1="355.08" y1="791.20" x2="363.08" y2="781.20" stroke="#111" stroke-width="1.15" />
<line x1="362.20" y1="791.20" x2="370.20" y2="781.20" stroke="#111" stroke-width="1.15" />
<line x1="369.32" y1="791.20" x2="377.32" y2="781.20" stroke="#111" stroke-width="1.15" />
<line x1="376.44" y1="791.20" x2="384.44" y2="781.20" stroke="#111" stroke-width="1.15" />
<line x1="383.56" y1="791.20" x2="391.56" y2="781.20" stroke="#111" stroke-width="1.15" />
<line x1="390.68" y1="791.20" x2="398.68" y2="781.20" stroke="#111" stroke-width="1.15" />
<line x1="397.80" y1="791.20" x2="405.80" y2="781.20" stroke="#111" stroke-width="1.15" />
<line x1="404.92" y1="791.20" x2="412.92" y2="781.20" stroke="#111" stroke-width="1.15" />
<line x1="412.04" y1="791.20" x2="420.04" y2="781.20" stroke="#111" stroke-width="1.15" />
<line x1="419.16" y1="791.20" x2="427.16" y2="781.20" stroke="#111" stroke-width="1.15" />
<line x1="426.28" y1="791.20" x2="434.28" y2="781.20" stroke="#111" stroke-width="1.15" />
<line x1="433.40" y1="791.20" x2="441.40" y2="781.20" stroke="#111" stroke-width="1.15" />
<line x1="440.52" y1="791.20" x2="448.52" y2="781.20" stroke="#111" stroke-width="1.15" />
</g>
<g id="section">
<line x1="778.80" y1="639.20" x2="778.80" y2="780.40" stroke="#111" stroke-width="2.0" />
<line x1="778.00" y1="779.80" x2="935.00" y2="779.80" stroke="#111" stroke-width="1.9" />
<line x1="935.00" y1="779.80" x2="950.00" y2="779.80" stroke="#444" stroke-width="0.9" />
<line x1="953.80" y1="779.40" x2="1016.50" y2="779.40" stroke="#444" stroke-width="0.9" />
<line x1="767.80" y1="653.30" x2="778.00" y2="644.50" stroke="#222" stroke-width="1.15" />
<line x1="767.80" y1="660.75" x2="778.00" y2="651.95" stroke="#222" stroke-width="1.15" />
<line x1="767.80" y1="668.20" x2="778.00" y2="659.40" stroke="#222" stroke-width="1.15" />
<line x1="767.80" y1="675.65" x2="778.00" y2="666.85" stroke="#222" stroke-width="1.15" />
<line x1="767.80" y1="683.10" x2="778.00" y2="674.30" stroke="#222" stroke-width="1.15" />
<line x1="767.80" y1="690.55" x2="778.00" y2="681.75" stroke="#222" stroke-width="1.15" />
<line x1="767.80" y1="698.00" x2="778.00" y2="689.20" stroke="#222" stroke-width="1.15" />
<line x1="767.80" y1="705.45" x2="778.00" y2="696.65" stroke="#222" stroke-width="1.15" />
<line x1="767.80" y1="712.90" x2="778.00" y2="704.10" stroke="#222" stroke-width="1.15" />
<line x1="767.80" y1="720.35" x2="778.00" y2="711.55" stroke="#222" stroke-width="1.15" />
<line x1="767.80" y1="727.80" x2="778.00" y2="719.00" stroke="#222" stroke-width="1.15" />
<line x1="767.80" y1="735.25" x2="778.00" y2="726.45" stroke="#222" stroke-width="1.15" />
<line x1="767.80" y1="742.70" x2="778.00" y2="733.90" stroke="#222" stroke-width="1.15" />
<line x1="767.80" y1="750.15" x2="778.00" y2="741.35" stroke="#222" stroke-width="1.15" />
<line x1="767.80" y1="757.60" x2="778.00" y2="748.80" stroke="#222" stroke-width="1.15" />
<line x1="767.80" y1="765.05" x2="778.00" y2="756.25" stroke="#222" stroke-width="1.15" />
<line x1="767.80" y1="772.50" x2="778.00" y2="763.70" stroke="#222" stroke-width="1.15" />
<line x1="767.80" y1="779.95" x2="778.00" y2="771.15" stroke="#222" stroke-width="1.15" />
<line x1="767.80" y1="788.20" x2="775.60" y2="780.80" stroke="#111" stroke-width="1.15" />
<line x1="774.90" y1="788.20" x2="782.70" y2="780.80" stroke="#111" stroke-width="1.15" />
<line x1="782.00" y1="788.20" x2="789.80" y2="780.80" stroke="#111" stroke-width="1.15" />
<line x1="789.10" y1="788.20" x2="796.90" y2="780.80" stroke="#111" stroke-width="1.15" />
<line x1="796.20" y1="788.20" x2="804.00" y2="780.80" stroke="#111" stroke-width="1.15" />
<line x1="803.30" y1="788.20" x2="811.10" y2="780.80" stroke="#111" stroke-width="1.15" />
<line x1="810.40" y1="788.20" x2="818.20" y2="780.80" stroke="#111" stroke-width="1.15" />
<line x1="817.50" y1="788.20" x2="825.30" y2="780.80" stroke="#111" stroke-width="1.15" />
<line x1="824.60" y1="788.20" x2="832.40" y2="780.80" stroke="#111" stroke-width="1.15" />
<line x1="831.70" y1="788.20" x2="839.50" y2="780.80" stroke="#111" stroke-width="1.15" />
<line x1="838.80" y1="788.20" x2="846.60" y2="780.80" stroke="#111" stroke-width="1.15" />
<line x1="845.90" y1="788.20" x2="853.70" y2="780.80" stroke="#111" stroke-width="1.15" />
<line x1="853.00" y1="788.20" x2="860.80" y2="780.80" stroke="#111" stroke-width="1.15" />
<line x1="860.10" y1="788.20" x2="867.90" y2="780.80" stroke="#111" stroke-width="1.15" />
<line x1="867.20" y1="788.20" x2="875.00" y2="780.80" stroke="#111" stroke-width="1.15" />
<line x1="874.30" y1="788.20" x2="882.10" y2="780.80" stroke="#111" stroke-width="1.15" />
<line x1="881.40" y1="788.20" x2="889.20" y2="780.80" stroke="#111" stroke-width="1.15" />
<line x1="888.50" y1="788.20" x2="896.30" y2="780.80" stroke="#111" stroke-width="1.15" />
<line x1="895.60" y1="788.20" x2="903.40" y2="780.80" stroke="#111" stroke-width="1.15" />
<line x1="902.70" y1="788.20" x2="910.50" y2="780.80" stroke="#111" stroke-width="1.15" />
<line x1="909.80" y1="788.20" x2="917.60" y2="780.80" stroke="#111" stroke-width="1.15" />
<line x1="916.90" y1="788.20" x2="924.70" y2="780.80" stroke="#111" stroke-width="1.15" />
<line x1="924.00" y1="788.20" x2="931.80" y2="780.80" stroke="#111" stroke-width="1.15" />
<line x1="778.80" y1="649.10" x2="935.60" y2="649.10" stroke="#111" stroke-width="2.9" />
<path d="M934.6,649 L934.6,666.6 L930,669.2 L920,676.8 L907,685 C903,688.6 901.2,693 901.4,699.6 L902.4,747.7" stroke="#111" stroke-width="2.3" fill="none" />
<line x1="778.80" y1="747.70" x2="808.40" y2="747.70" stroke="#111" stroke-width="1.8" />
<line x1="851.40" y1="747.70" x2="903.80" y2="747.70" stroke="#111" stroke-width="1.8" />
<path d="M927.8,650 L926.2,659.8" stroke="#111" stroke-width="1.4" fill="none" />
<path d="M926.2,659.8 C924,666 919,672.6 914.6,677 C908,683.6 902,688 895.4,691.2 L880.9,697.1 C873,700 868.6,702.6 867.2,704 C864.4,706.4 863.4,709 863,711.6 L861.3,723.6 Q860.8,726 858.7,727 L853.6,728.7 L851.6,732" stroke="#111" stroke-width="1.7" fill="none" stroke-dasharray="30 1.2 9 1.2 9 1.2 400"/>
<line x1="809.60" y1="664.30" x2="923.00" y2="659.60" stroke="#111" stroke-width="1.6" />
<line x1="820.60" y1="662.50" x2="844.00" y2="658.30" stroke="#333" stroke-width="1.1" />
<line x1="820.40" y1="650.00" x2="820.40" y2="662.50" stroke="#333" stroke-width="1.1" />
<path d="M809.6,664.3 L815.2,680.9 L821.2,697.1 C824,704 827,710 828,713.3 C829.4,718 830.2,722 830.5,725.3 L831.7,738.1" stroke="#111" stroke-width="1.7" fill="none" />
<path d="M802.5,728.9 L802.5,725.3 L805,725.3 Q808.2,725.5 808.4,729 L808.6,743.4 C809.2,753.6 819,761.6 830.6,761.6 C842,761.6 850.4,753.6 851,745 L851.6,732" stroke="#111" stroke-width="2.3" fill="none" />
<line x1="813.50" y1="724.80" x2="860.00" y2="724.80" stroke="#aaa" stroke-width="1.0" stroke-dasharray="7 3"/>
<line x1="811.00" y1="728.80" x2="849.00" y2="728.80" stroke="#333" stroke-width="1.4" stroke-dasharray="6.4 3"/>
<line x1="811.00" y1="733.00" x2="849.00" y2="733.00" stroke="#333" stroke-width="1.4" stroke-dasharray="6.4 3"/>
<line x1="811.00" y1="737.70" x2="849.00" y2="737.70" stroke="#333" stroke-width="1.4" stroke-dasharray="6.4 3"/>
<line x1="811.00" y1="742.80" x2="849.00" y2="742.80" stroke="#333" stroke-width="1.4" stroke-dasharray="6.4 3"/>
<line x1="811.50" y1="747.80" x2="849.00" y2="747.80" stroke="#999" stroke-width="1.4" stroke-dasharray="6.4 3"/>
<line x1="815.00" y1="752.60" x2="845.00" y2="752.60" stroke="#444" stroke-width="1.4" stroke-dasharray="6.4 3"/>
<line x1="823.00" y1="757.70" x2="837.00" y2="757.70" stroke="#444" stroke-width="1.4" stroke-dasharray="6.4 3"/>
<path d="M802.6,728.8 L787.2,728.8 L787.2,698.3 L821.4,698.3" stroke="#111" stroke-width="1.5" fill="none" />
<path d="M783.3,652.8 L783.3,684 L814.7,681.4" stroke="#111" stroke-width="1.8" fill="none" />
<rect x="785.00" y="663.90" width="13.10" height="16.20" rx="0" stroke="#111" stroke-width="1.6" fill="none" />
<line x1="795.60" y1="663.90" x2="795.60" y2="680.10" stroke="#111" stroke-width="1.1" />
<line x1="744.20" y1="663.40" x2="779.00" y2="663.40" stroke="#222" stroke-width="1.0" />
<line x1="744.20" y1="680.20" x2="779.00" y2="680.20" stroke="#222" stroke-width="1.0" />
<line x1="748.70" y1="645.00" x2="748.70" y2="655.00" stroke="#111" stroke-width="1.2" />
<polygon points="748.70,663.40 746.10,652.90 751.30,652.90" fill="#111"/>
<line x1="748.70" y1="689.00" x2="748.70" y2="699.00" stroke="#111" stroke-width="1.2" />
<polygon points="748.70,680.20 751.30,690.70 746.10,690.70" fill="#111"/>
<text x="702.40" y="678.90" font-size="19.5" text-anchor="start" fill="#111" font-weight="normal" textLength="35.5" lengthAdjust="spacingAndGlyphs">Ø55</text>
<line x1="680.20" y1="697.80" x2="743.00" y2="697.80" stroke="#222" stroke-width="1.0" />
<line x1="761.80" y1="697.80" x2="785.60" y2="697.80" stroke="#222" stroke-width="1.0" />
<line x1="680.20" y1="729.60" x2="787.00" y2="729.60" stroke="#222" stroke-width="1.0" />
<line x1="686.50" y1="676.40" x2="686.50" y2="688.00" stroke="#111" stroke-width="1.2" />
<polygon points="686.50,697.80 683.90,687.30 689.10,687.30" fill="#111"/>
<line x1="686.50" y1="739.00" x2="686.50" y2="751.70" stroke="#111" stroke-width="1.2" />
<polygon points="686.50,729.60 689.10,740.10 683.90,740.10" fill="#111"/>
<text x="667.80" y="720.30" font-size="19.5" text-anchor="start" fill="#111" font-weight="normal" textLength="47.6" lengthAdjust="spacingAndGlyphs">Ø100</text>
<line x1="745.50" y1="714.00" x2="797.00" y2="714.00" stroke="#999" stroke-width="0.9" stroke-dasharray="11 3 3 3"/>
<line x1="632.00" y1="714.00" x2="662.70" y2="714.00" stroke="#777" stroke-width="0.9" />
<line x1="636.30" y1="692.70" x2="636.30" y2="704.00" stroke="#111" stroke-width="1.2" />
<polygon points="636.30,714.00 633.70,703.50 638.90,703.50" fill="#111"/>
<line x1="632.00" y1="779.80" x2="765.50" y2="779.80" stroke="#555" stroke-width="0.9" />
<line x1="636.30" y1="790.00" x2="636.30" y2="800.60" stroke="#111" stroke-width="1.2" />
<polygon points="636.30,779.80 638.90,790.30 633.70,790.30" fill="#111"/>
<text x="619.60" y="752.20" font-size="19.5" text-anchor="start" fill="#111" font-weight="normal" textLength="32.6" lengthAdjust="spacingAndGlyphs">210</text>
<line x1="941.70" y1="649.30" x2="1016.50" y2="649.30" stroke="#444" stroke-width="0.9" />
<line x1="1010.00" y1="649.30" x2="1010.00" y2="701.80" stroke="#333" stroke-width="1.1" />
<line x1="1010.00" y1="725.00" x2="1010.00" y2="779.40" stroke="#333" stroke-width="1.1" />
<polygon points="1010.00,649.30 1012.70,659.80 1007.30,659.80" fill="#111"/>
<polygon points="1010.00,779.40 1007.30,768.90 1012.70,768.90" fill="#111"/>
<text x="992.90" y="719.50" font-size="19.5" text-anchor="start" fill="#111" font-weight="normal" textLength="33" lengthAdjust="spacingAndGlyphs">420</text>
<line x1="850.00" y1="763.50" x2="969.00" y2="763.50" stroke="#444" stroke-width="0.9" />
<line x1="964.30" y1="741.20" x2="964.30" y2="753.50" stroke="#111" stroke-width="1.2" />
<polygon points="964.30,763.50 961.70,753.00 966.90,753.00" fill="#111"/>
<line x1="964.30" y1="789.50" x2="964.30" y2="803.00" stroke="#111" stroke-width="1.2" />
<polygon points="964.30,779.40 966.90,789.90 961.70,789.90" fill="#111"/>
<text x="973.70" y="774.50" font-size="19.5" text-anchor="start" fill="#111" font-weight="normal" textLength="21.6" lengthAdjust="spacingAndGlyphs">60</text>
</g>
<g id="wm">
<rect x="0" y="808.9" width="1026" height="18.8" fill="#8f8f8f"/>
<text x="-96.80" y="824.30" font-size="18" text-anchor="start" fill="#ffffff" font-weight="normal" >domostroi.by</text>
<text x="16.60" y="824.30" font-size="18" text-anchor="start" fill="#ffffff" font-weight="normal" >domostroi.by</text>
<text x="130.00" y="824.30" font-size="18" text-anchor="start" fill="#ffffff" font-weight="normal" >domostroi.by</text>
<text x="243.40" y="824.30" font-size="18" text-anchor="start" fill="#ffffff" font-weight="normal" >domostroi.by</text>
<text x="356.80" y="824.30" font-size="18" text-anchor="start" fill="#ffffff" font-weight="normal" >domostroi.by</text>
<text x="470.20" y="824.30" font-size="18" text-anchor="start" fill="#ffffff" font-weight="normal" >domostroi.by</text>
<text x="583.60" y="824.30" font-size="18" text-anchor="start" fill="#ffffff" font-weight="normal" >domostroi.by</text>
<text x="697.00" y="824.30" font-size="18" text-anchor="start" fill="#ffffff" font-weight="normal" >domostroi.by</text>
<text x="810.40" y="824.30" font-size="18" text-anchor="start" fill="#ffffff" font-weight="normal" >domostroi.by</text>
<text x="923.80" y="824.30" font-size="18" text-anchor="start" fill="#ffffff" font-weight="normal" >domostroi.by</text>
</g>
</svg>
</body></html>
